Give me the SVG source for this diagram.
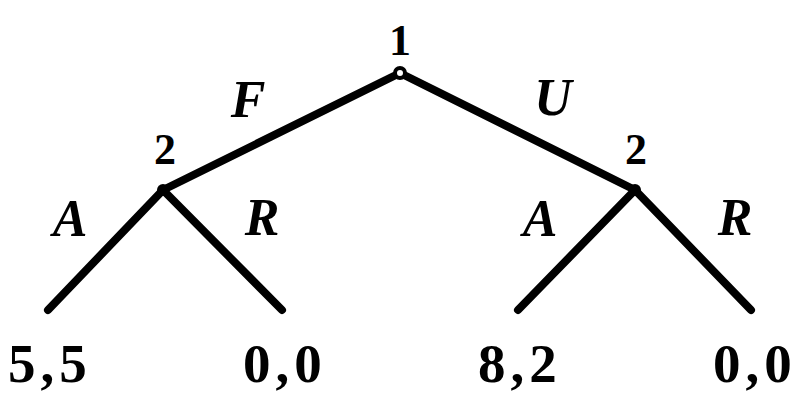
<svg xmlns="http://www.w3.org/2000/svg" width="800" height="407" viewBox="0 0 800 407">
<style>
.e{stroke:#000;stroke-width:8;stroke-linecap:round;fill:none}
text{font-family:'Liberation Serif','Times New Roman',serif;font-weight:bold;fill:#000}
.n{font-size:44px}
.l{font-size:52px;font-style:italic}
.p{font-size:55px;letter-spacing:5px}
</style>
<rect width="800" height="407" fill="#fff"/>
<g id="edges">
<line class="e" x1="400" y1="73" x2="163" y2="190"/>
<line class="e" x1="400" y1="73" x2="635" y2="190"/>
<line class="e" x1="163" y1="190" x2="48" y2="310"/>
<line class="e" x1="163" y1="190" x2="282" y2="310"/>
<line class="e" x1="635" y1="190" x2="518" y2="310"/>
<line class="e" x1="635" y1="190" x2="751" y2="310"/>
<text class="l" x="248" y="117" text-anchor="middle">F</text>
<text class="l" x="553" y="115" text-anchor="middle">U</text>
<text class="l" x="70" y="236" text-anchor="middle">A</text>
<text class="l" x="262" y="235" text-anchor="middle">R</text>
<text class="l" x="540" y="236" text-anchor="middle">A</text>
<text class="l" x="735" y="235" text-anchor="middle">R</text>
</g>
<g id="root">
<circle cx="400" cy="73" r="5" fill="#fff" stroke="#000" stroke-width="4"/>
<text class="n" x="400" y="55" text-anchor="middle">1</text>
</g>
<g id="n2left">
<circle cx="163" cy="190" r="6" fill="#000"/>
<text class="n" x="165" y="164" text-anchor="middle">2</text>
</g>
<g id="n2right">
<circle cx="635" cy="190" r="6" fill="#000"/>
<text class="n" x="636" y="164" text-anchor="middle">2</text>
</g>
<g id="leaf1"><text class="p" x="8" y="382">5,5</text></g>
<g id="leaf2"><text class="p" x="243" y="382">0,0</text></g>
<g id="leaf3"><text class="p" x="478" y="382">8,2</text></g>
<g id="leaf4"><text class="p" x="713" y="382">0,0</text></g>
</svg>
